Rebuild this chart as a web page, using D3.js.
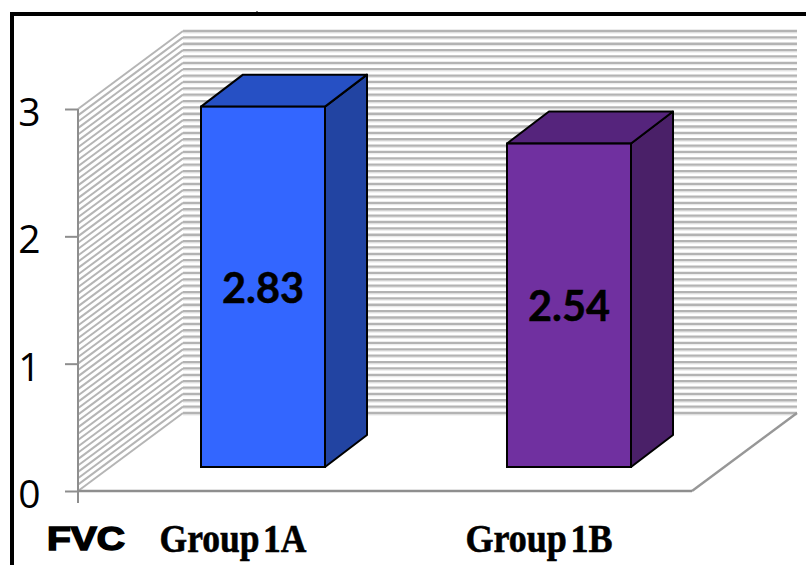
<!DOCTYPE html>
<html>
<head>
<meta charset="utf-8">
<script src="https://cdn.jsdelivr.net/npm/d3@7"></script>
<style>
  html, body { margin: 0; padding: 0; background: #fff; }
  svg { display: block; }
</style>
</head>
<body>
<svg id="chart" width="806" height="565"></svg>
<script>
// Chart content
const categories = ["Group 1A", "Group 1B"];
const values = [2.83, 2.54];
const valueLabels = ["2.83", "2.54"];
const yTicks = [0, 1, 2, 3];
const frontColors = ["#3366ff", "#7030a0"];
const topColors = ["#2650c4", "#55247c"];
const sideColors = ["#2244a2", "#4a2068"];
const axisTitle = "FVC";

const svg = d3.select("#chart");
const y = d3.scaleLinear().domain([0, 3]).range([491, 109]);
const x = d3.scaleBand().domain(categories).range([78.5, 690.5]);

// Oblique projection of the plot box and of the bars inside it
const wallDx = 105, wallDy = -78;
const barDx = 42, barDy = -32;
const barInsetX = (wallDx - barDx) / 2, barInsetY = -24;
const barWidth = 124;
const frontLeft = 78, frontRight = 692;

// Frame around the chart
svg.append("path")
  .attr("d", `M12 565V14H806`)
  .attr("fill", "none").attr("stroke", "#000").attr("stroke-width", 4);
svg.append("line")
  .attr("x1", 257).attr("x2", 257).attr("y1", 11).attr("y2", 13)
  .attr("stroke", "#000");

// Fine gridlines, one every 0.05 units
const gridValues = y.ticks(60);

const backGrid = svg.append("g");
backGrid.selectAll("line.under").data(gridValues).join("line")
  .attr("class", "under")
  .attr("x1", frontLeft + wallDx).attr("x2", frontRight + wallDx)
  .attr("y1", d => y(d) + wallDy + 1.8).attr("y2", d => y(d) + wallDy + 1.8)
  .attr("stroke", "#e8e8e8").attr("stroke-width", 1.2);
backGrid.selectAll("line.main").data(gridValues).join("line")
  .attr("class", "main")
  .attr("x1", frontLeft + wallDx).attr("x2", frontRight + wallDx)
  .attr("y1", d => y(d) + wallDy).attr("y2", d => y(d) + wallDy)
  .attr("stroke", "#b3b3b3").attr("stroke-width", 2.3);

const sideGrid = svg.append("g");
sideGrid.selectAll("line").data(gridValues).join("line")
  .attr("x1", frontLeft).attr("x2", frontLeft + wallDx)
  .attr("y1", d => y(d)).attr("y2", d => y(d) + wallDy)
  .attr("stroke", "#b5b5b5").attr("stroke-width", 2);

// Right floor edge
svg.append("line")
  .attr("x1", frontRight).attr("y1", y(0))
  .attr("x2", frontRight + wallDx).attr("y2", y(0) + wallDy)
  .attr("stroke", "#979797").attr("stroke-width", 2.4);

// Value axis and floor front edge
svg.append("line")
  .attr("x1", frontLeft).attr("x2", frontLeft)
  .attr("y1", y(3)).attr("y2", y(0) + 12)
  .attr("stroke", "#8e8e8e").attr("stroke-width", 2);
svg.append("line")
  .attr("x1", frontLeft).attr("x2", frontRight)
  .attr("y1", y(0)).attr("y2", y(0))
  .attr("stroke", "#8e8e8e").attr("stroke-width", 2.6);

const axis = d3.axisLeft(y).tickValues(yTicks).tickSize(13).tickPadding(0).tickFormat(d3.format("d"));
const axisG = svg.append("g")
  .attr("transform", `translate(${frontLeft},0)`)
  .call(axis);
axisG.select(".domain").remove();
axisG.selectAll(".tick line").attr("stroke", "#8e8e8e").attr("stroke-width", 2);
axisG.selectAll(".tick text")
  .attr("x", -48.5).attr("dy", 0).attr("y", 16.5)
  .attr("text-anchor", "middle")
  .attr("fill", "#000")
  .style("font", "39px 'Open Sans', sans-serif");

// Bars: front face, top face, side face
const bars = svg.append("g").selectAll("g")
  .data(categories.map((c, i) => ({
    c, v: values[i], label: valueLabels[i],
    front: frontColors[i], top: topColors[i], side: sideColors[i]
  })))
  .join("g");

const left = d => Math.round(x(d.c) + x.bandwidth() / 2 + barInsetX - barWidth / 2);
const baseY = y(0) + barInsetY;
const topY = d => baseY - (y(0) - y(d.v));

const poly = pts => "M" + pts.map(p => p.join(",")).join("L") + "Z";

bars.append("path")
  .attr("d", d => poly([
    [left(d) + barWidth, topY(d)],
    [left(d) + barWidth + barDx, topY(d) + barDy],
    [left(d) + barWidth + barDx, baseY + barDy],
    [left(d) + barWidth, baseY]
  ]))
  .attr("fill", d => d.side).attr("stroke", "#000").attr("stroke-width", 2).attr("stroke-linejoin", "round");
bars.append("path")
  .attr("d", d => poly([
    [left(d), topY(d)],
    [left(d) + barDx, topY(d) + barDy],
    [left(d) + barWidth + barDx, topY(d) + barDy],
    [left(d) + barWidth, topY(d)]
  ]))
  .attr("fill", d => d.top).attr("stroke", "#000").attr("stroke-width", 2).attr("stroke-linejoin", "round");
bars.append("rect")
  .attr("x", left).attr("y", topY)
  .attr("width", barWidth).attr("height", d => baseY - topY(d))
  .attr("fill", d => d.front).attr("stroke", "#000").attr("stroke-width", 2);

// Value labels in the middle of each front face
bars.append("text")
  .attr("x", d => left(d) + barWidth / 2)
  .attr("y", d => (topY(d) + baseY) / 2 + 16)
  .attr("text-anchor", "middle")
  .attr("textLength", 82).attr("lengthAdjust", "spacingAndGlyphs")
  .attr("fill", "#000")
  .attr("stroke", "#000").attr("stroke-width", 0.5)
  .style("font", "bold 42px Lato, sans-serif")
  .text(d => d.label);

// Category labels
svg.append("g").selectAll("text").data(categories).join("text")
  .attr("x", d => x(d) + x.bandwidth() / 2 + 1.5)
  .attr("y", 552)
  .attr("text-anchor", "middle")
  .attr("textLength", 147).attr("lengthAdjust", "spacingAndGlyphs")
  .attr("fill", "#000")
  .attr("stroke", "#000").attr("stroke-width", 0.6)
  .style("font", "bold 40px 'Liberation Serif', serif")
  .style("word-spacing", "-6px")
  .text(d => d);

// Axis title
svg.append("text")
  .attr("x", 47).attr("y", 550)
  .attr("textLength", 78).attr("lengthAdjust", "spacingAndGlyphs")
  .attr("fill", "#000")
  .attr("stroke", "#000").attr("stroke-width", 1.6)
  .style("font", "bold 34px 'Liberation Sans', sans-serif")
  .text(axisTitle);
</script>
</body>
</html>
